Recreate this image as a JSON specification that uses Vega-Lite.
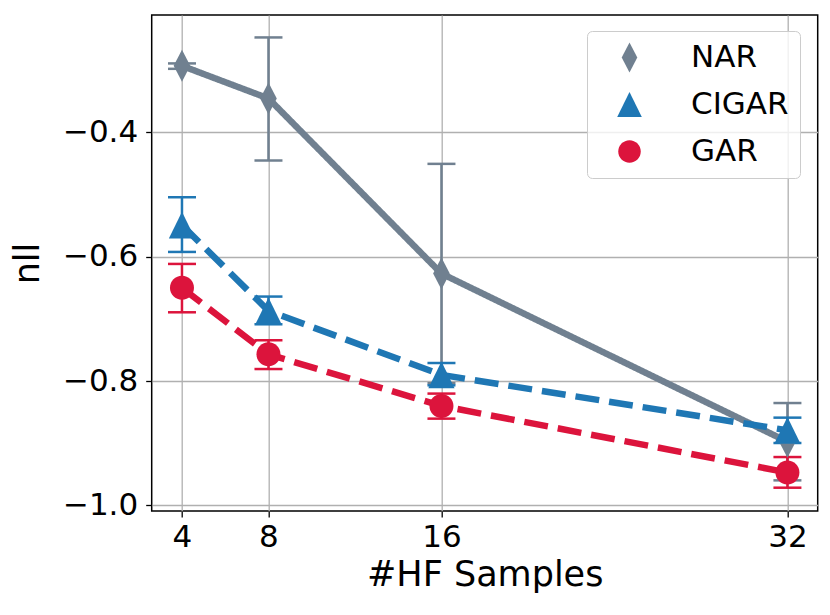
{
  "$schema": "https://vega.github.io/schema/vega-lite/v6.json",
  "width": 666,
  "height": 496,
  "autosize": "none",
  "padding": {"left": 151.7, "top": 15, "right": 12.3, "bottom": 104},
  "background": "white",
  "config": {
    "font": "DejaVu Sans",
    "view": {"stroke": "black", "strokeWidth": 1.5},
    "axis": {
      "grid": true, "gridColor": "#b0b0b0", "gridWidth": 1.3,
      "domain": false, "tickColor": "black", "tickSize": 6, "tickWidth": 1.3,
      "labelFont": "DejaVu Sans", "labelFontSize": 31, "labelColor": "black",
      "titleFont": "DejaVu Sans", "titleFontSize": 35, "titleFontWeight": "normal", "titleColor": "black"
    }
  },
  "data": {
    "values": [
      {"n": 4, "method": "NAR", "mean": -0.2928, "lo": -0.2976, "hi": -0.2889},
      {"n": 8, "method": "NAR", "mean": -0.3453, "lo": -0.4451, "hi": -0.2471},
      {"n": 16, "method": "NAR", "mean": -0.627, "lo": -0.8035, "hi": -0.4505},
      {"n": 32, "method": "NAR", "mean": -0.8975, "lo": -0.9597, "hi": -0.8353},
      {"n": 4, "method": "CIGAR", "mean": -0.549, "lo": -0.5922, "hi": -0.5042},
      {"n": 8, "method": "CIGAR", "mean": -0.687, "lo": -0.7086, "hi": -0.664},
      {"n": 16, "method": "CIGAR", "mean": -0.79, "lo": -0.8068, "hi": -0.7709},
      {"n": 32, "method": "CIGAR", "mean": -0.8792, "lo": -0.8996, "hi": -0.8588},
      {"n": 4, "method": "GAR", "mean": -0.65, "lo": -0.6893, "hi": -0.6115},
      {"n": 8, "method": "GAR", "mean": -0.757, "lo": -0.7806, "hi": -0.7343},
      {"n": 16, "method": "GAR", "mean": -0.84, "lo": -0.8604, "hi": -0.8201},
      {"n": 32, "method": "GAR", "mean": -0.947, "lo": -0.9715, "hi": -0.9222}
    ]
  },
  "encoding": {
    "x": {
      "field": "n", "type": "quantitative",
      "scale": {"domain": [2.6, 33.4], "nice": false, "zero": false},
      "axis": {"values": [4, 8, 16, 32], "title": "#HF Samples", "labelPadding": 5, "titlePadding": 5}
    }
  },
  "layer": [
    {
      "mark": {"type": "rule", "strokeWidth": 2.5},
      "encoding": {
        "y": {"field": "lo", "type": "quantitative", "title": "nll",
          "scale": {"domain": [-1.009, -0.211], "nice": false, "zero": false},
          "axis": {"values": [-1.0, -0.8, -0.6, -0.4], "format": ".1f", "labelPadding": 8, "titlePadding": 17}},
        "y2": {"field": "hi"},
        "color": {"field": "method", "type": "nominal",
          "scale": {"domain": ["NAR", "CIGAR", "GAR"], "range": ["#708090", "#1f77b4", "#dc143c"]}}
      }
    },
    {
      "mark": {"type": "tick", "orient": "horizontal", "size": 28, "thickness": 2.5, "opacity": 1},
      "encoding": {
        "y": {"field": "lo", "type": "quantitative", "title": "nll"},
        "color": {"field": "method", "type": "nominal"}
      }
    },
    {
      "mark": {"type": "tick", "orient": "horizontal", "size": 28, "thickness": 2.5, "opacity": 1},
      "encoding": {
        "y": {"field": "hi", "type": "quantitative", "title": "nll"},
        "color": {"field": "method", "type": "nominal"}
      }
    },
    {
      "mark": {"type": "line", "strokeWidth": 6.5, "strokeCap": "butt"},
      "encoding": {
        "y": {"field": "mean", "type": "quantitative", "title": "nll"},
        "color": {"field": "method", "type": "nominal"},
        "strokeDash": {"field": "method", "type": "nominal",
          "scale": {"domain": ["NAR", "CIGAR", "GAR"], "range": [[1, 0], [24, 10], [24, 10]]}, "legend": null}
      }
    },
    {
      "mark": {"type": "point", "filled": true, "opacity": 1, "size": 1024, "strokeWidth": 0},
      "encoding": {
        "y": {"field": "mean", "type": "quantitative", "title": "nll"},
        "shape": {"field": "method", "type": "nominal",
          "scale": {"domain": ["NAR", "CIGAR", "GAR"],
            "range": ["M0,-1L0.52,0L0,1L-0.52,0Z", "M0,-0.84L0.82,0.84L-0.82,0.84Z", "M-0.75,0A0.75,0.75 0 1 1 0.75,0A0.75,0.75 0 1 1 -0.75,0Z"]},
          "legend": null},
        "color": {"field": "method", "type": "nominal",
          "legend": {
            "title": null, "orient": "none", "legendX": 435.3, "legendY": 16,
            "fillColor": "rgba(255,255,255,0.8)", "strokeColor": "#cccccc", "cornerRadius": 5, "padding": 11,
            "labelFont": "DejaVu Sans", "labelFontSize": 31, "labelColor": "black",
            "symbolSize": 900, "symbolOffset": 16, "labelOffset": 46, "rowPadding": 15, "symbolStrokeWidth": 0
          }
        }
      }
    }
  ]
}
